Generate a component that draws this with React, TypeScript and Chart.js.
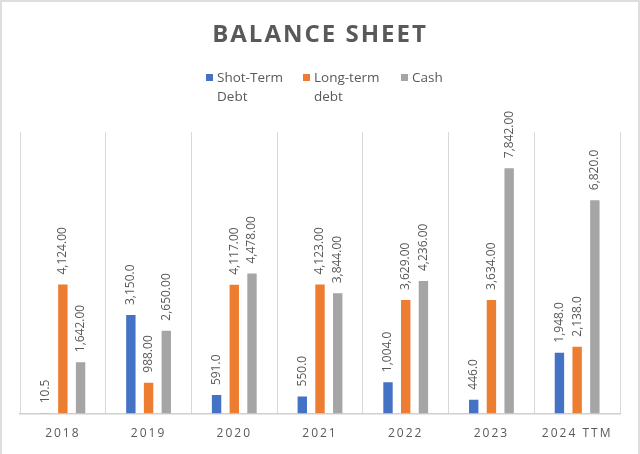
import { useEffect, useRef } from "react";
import { Chart, registerables } from "chart.js";

Chart.register(...registerables);

const categories = ["2018", "2019", "2020", "2021", "2022", "2023", "2024 TTM"];
const shortTermDebt = [10.5, 3150, 591, 550, 1004, 446, 1948];
const longTermDebt = [4124, 988, 4117, 4123, 3629, 3634, 2138];
const cash = [1642, 2650, 4478, 3844, 4236, 7842, 6820];
const shortTermDecimals = [1, 1, 1, 1, 1, 1, 1];
const longTermDecimals = [2, 2, 2, 2, 2, 2, 1];
const cashDecimals = [2, 2, 2, 2, 2, 2, 1];
const seriesNames = ["Shot-Term Debt", "Long-term debt", "Cash"];
const seriesColors = ["#4472C4", "#ED7D31", "#A5A5A5"];
const chartTitle = "BALANCE SHEET";
const yMin = 0;
const yMax = 9000;

const TEXT_COLOR = "#595959";
const FONT = "'Open Sans', 'DejaVu Sans', sans-serif";

const letterSpacingPlugin = {
  id: "letterSpacing",
  beforeDraw(chart: any) {
    (chart.ctx as any).letterSpacing = "2px";
  },
  beforeDatasetsDraw(chart: any) {
    (chart.ctx as any).letterSpacing = "0px";
  },
};

const valueLabels = {
  id: "valueLabels",
  afterDatasetsDraw(chart: any) {
    const ctx = chart.ctx as CanvasRenderingContext2D;
    ctx.save();
    (ctx as any).letterSpacing = "0px";
    ctx.font = `12px ${FONT}`;
    ctx.fillStyle = TEXT_COLOR;
    ctx.textAlign = "left";
    ctx.textBaseline = "middle";
    chart.data.datasets.forEach((ds: any, i: number) => {
      const meta = chart.getDatasetMeta(i);
      meta.data.forEach((bar: any, j: number) => {
        const v = ds.data[j] as number;
        const d = ds.decimals[j] as number;
        const text = v.toLocaleString("en-US", {
          minimumFractionDigits: d,
          maximumFractionDigits: d,
        });
        ctx.save();
        ctx.translate(bar.x, bar.y - 10);
        ctx.rotate(-Math.PI / 2);
        ctx.fillText(text, 0, 0);
        ctx.restore();
      });
    });
    ctx.restore();
  },
};

export default function App() {
  const canvasRef = useRef<HTMLCanvasElement | null>(null);

  useEffect(() => {
    if (!canvasRef.current) return;
    const series = [shortTermDebt, longTermDebt, cash];
    const decimals = [shortTermDecimals, longTermDecimals, cashDecimals];
    const chart = new Chart(canvasRef.current, {
      type: "bar",
      data: {
        labels: categories,
        datasets: series.map((data, i) => ({
          label: seriesNames[i],
          data,
          decimals: decimals[i],
          backgroundColor: seriesColors[i],
          borderWidth: 0,
          categoryPercentage: 0.62,
          barPercentage: 0.53,
        })) as any,
      },
      options: {
        responsive: false,
        animation: false,
        layout: { padding: { top: 132, left: 20, right: 20, bottom: 0 } },
        plugins: {
          legend: { display: false },
          title: { display: false },
          tooltip: { enabled: false },
        },
        scales: {
          x: {
            grid: {
              display: true,
              drawTicks: false,
              color: "#d9d9d9",
              lineWidth: 1,
              offset: true,
            },
            border: { display: true, color: "#d0d0d0", width: 1.5 },
            ticks: {
              color: TEXT_COLOR,
              font: { family: FONT, size: 12 },
              padding: 13,
              maxRotation: 0,
              autoSkip: false,
            },
          },
          y: {
            display: false,
            min: yMin,
            max: yMax,
          },
        },
      },
      plugins: [letterSpacingPlugin, valueLabels],
    });
    return () => chart.destroy();
  }, []);

  const legendX = [0, 97, 195];

  return (
    <div
      style={{
        position: "fixed",
        left: 0,
        top: 0,
        width: 640,
        height: 454,
        background: "#ffffff",
        overflow: "hidden",
      }}
    >
      <canvas
        ref={canvasRef}
        width={640}
        height={454}
        style={{ position: "absolute", left: 0, top: 0, width: 640, height: 454 }}
      />
      <div
        style={{
          position: "absolute",
          left: 0,
          top: 21,
          width: 640,
          textAlign: "center",
          fontFamily: FONT,
          fontWeight: 700,
          fontSize: 24,
          lineHeight: "24px",
          letterSpacing: "2px",
          color: TEXT_COLOR,
        }}
      >
        {chartTitle}
      </div>
      <div style={{ position: "absolute", left: 206, top: 68 }}>
        {seriesNames.map((name, i) => (
          <div
            key={name}
            style={{ position: "absolute", left: legendX[i], top: 0, width: 95 }}
          >
            <div
              style={{
                position: "absolute",
                left: 0,
                top: 6,
                width: 7,
                height: 7,
                background: seriesColors[i],
              }}
            />
            <div
              style={{
                position: "absolute",
                left: 11,
                top: 0,
                width: 76,
                fontFamily: FONT,
                fontSize: 13.5,
                lineHeight: "19px",
                color: TEXT_COLOR,
              }}
            >
              {name}
            </div>
          </div>
        ))}
      </div>
      <div
        style={{
          position: "absolute",
          left: 0,
          top: 0,
          width: 640,
          height: 454,
          boxSizing: "border-box",
          borderLeft: "2px solid #dedede",
          borderTop: "2px solid #dedede",
          borderRight: "2px solid #dedede",
          pointerEvents: "none",
        }}
      />
    </div>
  );
}
